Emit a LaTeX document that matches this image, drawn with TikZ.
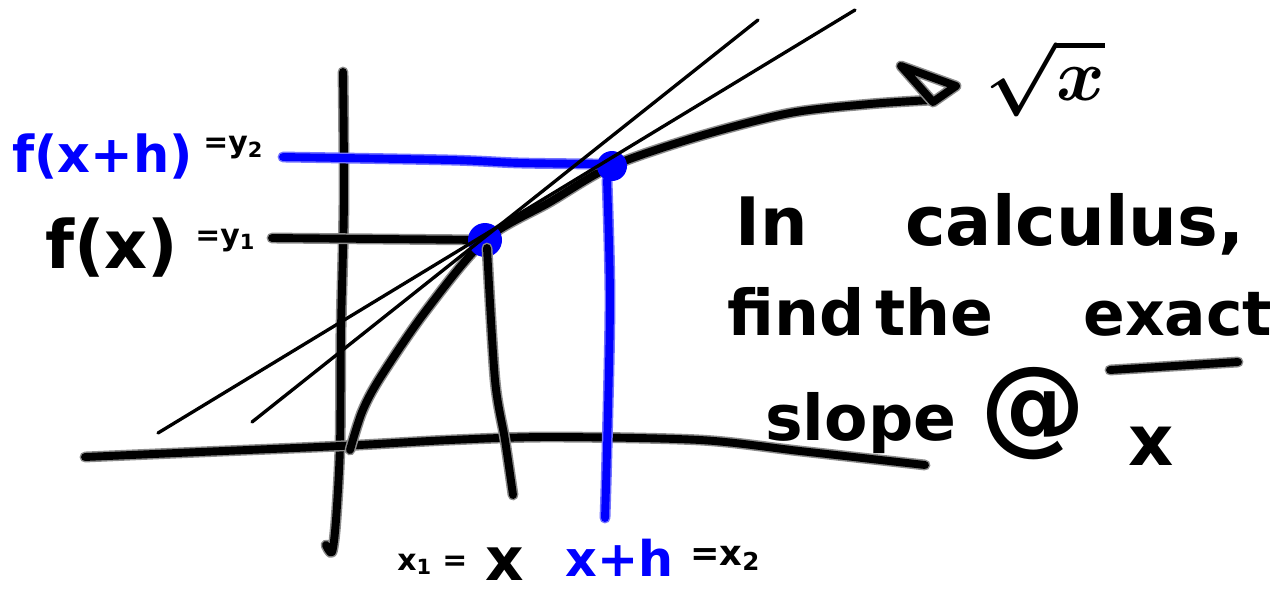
\documentclass[tikz,border=0pt]{standalone}
\usepackage{fontspec}
\setmainfont{DejaVu Sans}
\usetikzlibrary{positioning}

\tikzset{
  ink/.style={line width=4.5pt, line cap=round, line join=round,
    preaction={draw=black!45, line width=6.2pt, line cap=round, line join=round}},
  blueink/.style={draw=blue, line width=4.5pt, line cap=round, line join=round,
    preaction={draw=blue!55, line width=6.2pt, line cap=round, line join=round}},
  thinink/.style={line width=1.9pt, line cap=round},
  hand/.style={anchor=base west, inner sep=0pt, font=\bfseries\fontsize{36}{40}\selectfont},
  smallhand/.style={anchor=base west, inner sep=0pt, font=\bfseries\fontsize{17}{19}\selectfont}
}

\begin{document}
\begin{tikzpicture}[x=0.02cm, y=-0.02cm]
% ---- Canvas (pixel grid of the sketch, y pointing down) ----
\useasboundingbox (0,0) rectangle (1279,596);
\fill[white] (0,0) rectangle (1279,596);

% Key points on the curve
\def\xOne{485}
\def\yOne{240}
\def\xTwo{612}
\def\yTwo{166}
\coordinate (p1) at (\xOne,\yOne);
\coordinate (p2) at (\xTwo,\yTwo);

% ---- Axes ----
\draw[ink] plot[smooth] coordinates {(343,72) (344,200) (341,330) (340,445) (336,520) (332,552) (326,545)};
\draw[ink] plot[smooth] coordinates {(85,457) (200,452) (340,446) (450,440) (550,437) (700,440) (800,451) (925,465)};

% ---- Curve with hand-drawn arrow head ----
\draw[ink] plot[smooth] coordinates {(350,450) (362,412) (380,378) (425,312) (\xOne,\yOne) (550,202) (\xTwo,\yTwo) (700,136) (790,113) (870,104) (932,100)};
\draw[ink] (901,66) -- (956,86) -- (933,102) -- cycle;

% ---- Projection lines ----
\coordinate (fxstart) at (272,238);
\coordinate (xone) at (513,495);
\draw[ink] (fxstart) -- (p1);
\coordinate (fxhstart) at (283,157);
\coordinate (xtwo) at (605,518);
\draw[blueink] plot[smooth] coordinates {(fxhstart) (450,160) (520,163) (600,164)};
\draw[blueink] plot[smooth] coordinates {(607,180) (610,300) (607,450) (xtwo)};

% ---- Points ----
\fill[blue] (p1) circle (17);
\fill[blue] (p2) circle (15);
\draw[ink] plot[smooth] coordinates {(487,248) (495,380) (505,440) (xone)};

% ---- Tangent and secant lines (drawn over the rest) ----
\coordinate (tanlo) at (252,422);
\coordinate (tanhi) at (758,20);
\coordinate (seclo) at (158,433);
\coordinate (sechi) at (855,10);
\draw[thinink] (tanlo) -- (tanhi);
\draw[thinink] (seclo) -- (sechi);

% ---- Left labels ----
\node[hand, blue, font=\bfseries\fontsize{29}{33}\selectfont] (lblfxh) at (12,172) {f(x+h)};
\node[smallhand] (lbly2) at (203,152) {=y\textsubscript{2}};
\node[hand, font=\bfseries\fontsize{38}{42}\selectfont] (lblfx) at (45,268) {f(x)};
\node[smallhand] (lbly1) at (195,245) {=y\textsubscript{1}};

% ---- Bottom labels ----
\node[smallhand] (lblxone) at (397,570) {x\textsubscript{1} =};
\node[hand, font=\bfseries\fontsize{34}{38}\selectfont] (lblx) at (485,580) {x};
\node[hand, blue, font=\bfseries\fontsize{28}{32}\selectfont] (lblxh) at (565,576) {x+h};
\node[smallhand, font=\bfseries\fontsize{20}{22}\selectfont] (lblxtwo) at (690,565) {=x\textsubscript{2}};

% ---- Function name ----
\node[inner sep=0pt, font=\boldmath] (lblsqrt) at (1045,78) {\scalebox{4.2}{$\sqrt{x}$}};

% ---- Note on the right ----
\node[hand, font=\bfseries\fontsize{38}{42}\selectfont] (txtin) at (735,245) {In};
\node[hand, font=\bfseries\fontsize{39}{43}\selectfont] (txtcalc) at (905,245) {calculus,};
\node[hand] (txtfind) at (727,335) {find};
\node[hand] (txtthe) at (875,335) {the};
\node[hand, font=\bfseries\fontsize{35}{39}\selectfont] (txtexact) at (1083,335) {exact};
\draw[ink] (1110,370) -- (1238,362);
\node[hand] (txtslope) at (765,440) {slope};
\node[hand, font=\bfseries\fontsize{60}{64}\selectfont] (txtat) at (980,441) {@};
\node[hand, font=\bfseries\fontsize{40}{44}\selectfont] (txtx) at (1128,465) {x};

\end{tikzpicture}
\end{document}
